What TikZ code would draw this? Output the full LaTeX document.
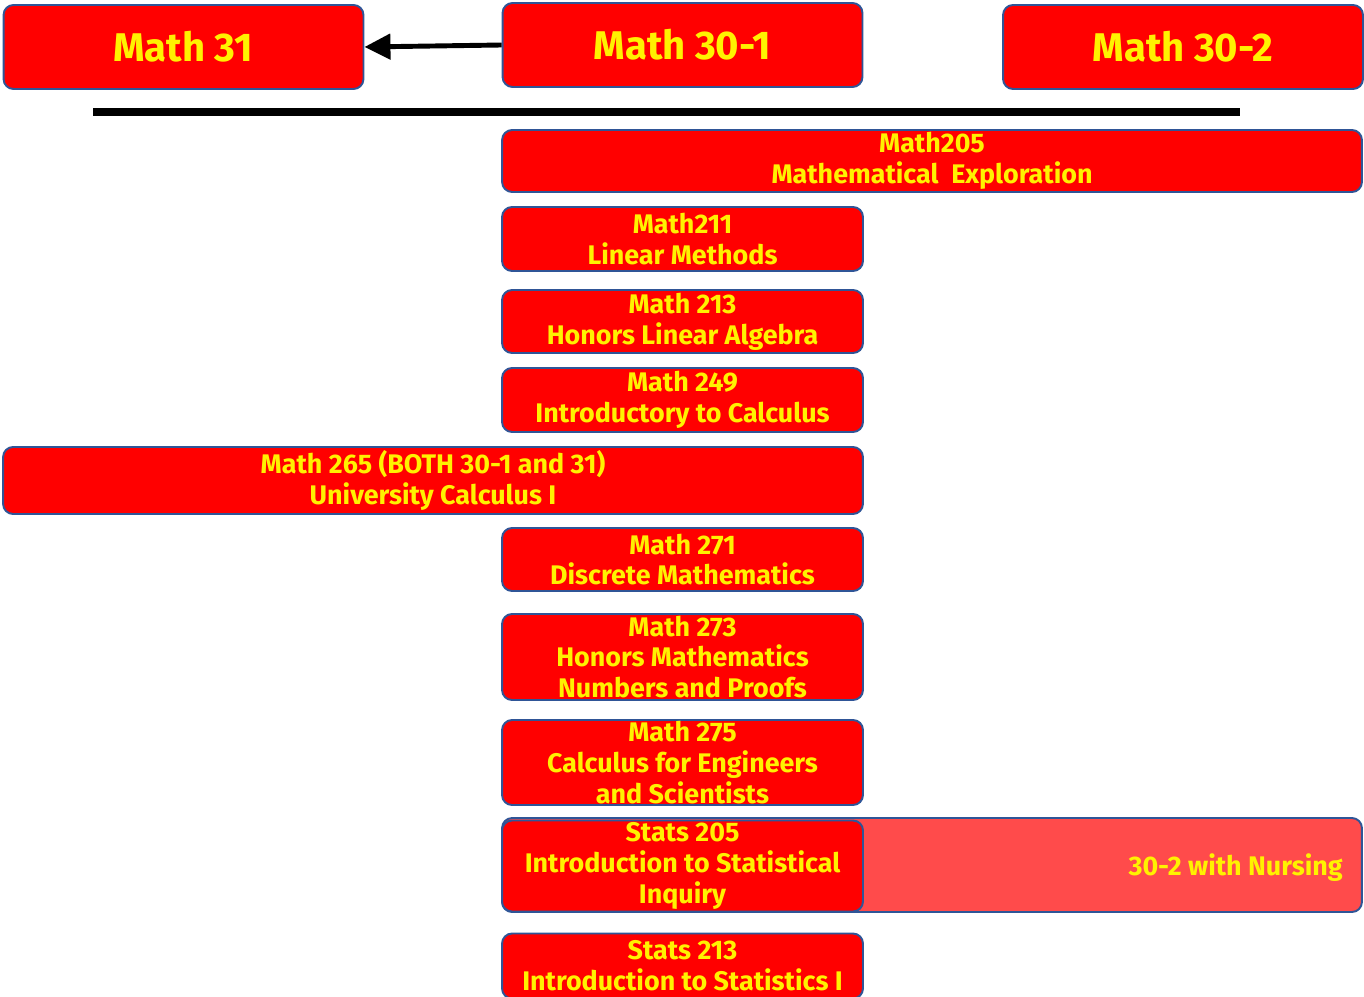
\documentclass[tikz,border=0pt]{standalone}
\usepackage{fontspec}
\setmainfont{Fira Sans}
\usepackage{xcolor}
\usetikzlibrary{arrows.meta}
\definecolor{rim}{HTML}{2F5597}
\definecolor{pale}{HTML}{FF4B4B}
\tikzset{course/.style={draw=rim, line width=1.1pt, fill=red, rounded corners=2mm,
    text=yellow, align=center, inner sep=0pt,
    font=\bfseries\fontsize{15.3}{17.6}\selectfont},
  stream/.style={course, font=\bfseries\fontsize{22.8}{26}\selectfont,
    minimum width=7.2cm, minimum height=1.68cm},
  label/.style={text=yellow, inner sep=0pt, font=\bfseries\fontsize{15.3}{17.6}\selectfont}}

\begin{document}
\begin{tikzpicture}[x=0.02cm, y=-0.02cm]
\useasboundingbox (0,0) rectangle (1364,996);

%%% high school streams
\node[stream] (m31) at (183.5,47) {Math 31};
\node[stream] (m301) at (682.5,45) {Math 30-1};
\node[stream] (m302) at (1183,47) {Math 30-2};
\draw[line width=2.8pt, -{Triangle[length=0.52cm,width=0.5cm]}] (m301.west) -- (m31.east);

% separateur
\coordinate (sepL) at (93,112);
\coordinate (sepR) at (1240,112);
\draw[line width=0.16cm] (sepL) -- (sepR);

%%% cours universitaires
\node[course, minimum width=17.2cm, minimum height=1.24cm] (m205) at (932,161) {Math205\\Mathematical\ \ Exploration};
\node[course, minimum width=7.22cm, minimum height=1.28cm] (m211) at (682.5,239) {Math211\\Linear Methods};
\node[course, minimum width=7.22cm, minimum height=1.26cm] (m213) at (682.5,321.5) {Math 213\\Honors Linear Algebra};
\node[course, minimum width=7.22cm, minimum height=1.28cm] (m249) at (682.5,400) {Math 249\\Introductory to Calculus};
\node[course, minimum width=17.2cm, minimum height=1.34cm] (m265) at (433,480.5) {Math 265 (BOTH 30-1 and 31)\\University Calculus I};
\node[course, minimum width=7.22cm, minimum height=1.26cm] (m271) at (682.5,559.5) {Math 271\\Discrete Mathematics};
\node[course, minimum width=7.22cm, minimum height=1.72cm] (m273) at (682.5,657) {Math 273\\Honors Mathematics\\Numbers and Proofs};
\node[course, minimum width=7.22cm, minimum height=1.7cm] (m275) at (682.5,762.5) {Math 275\\Calculus for Engineers\\and Scientists};

% stats 205, aussi avec 30-2
\node[course, fill=pale, minimum width=17.2cm, minimum height=1.88cm] (nurse) at (932,865) {};
\node[label, anchor=east] (nursetxt) at (1343,868) {30-2 with Nursing};
\node[course, minimum width=7.22cm, minimum height=1.82cm] (s205) at (682.5,866) {Stats 205\\Introduction to Statistical\\Inquiry};
\node[course, minimum width=7.22cm, minimum height=1.3cm] (s213) at (682.5,966) {Stats 213\\Introduction to Statistics I};
\end{tikzpicture}
\end{document}
